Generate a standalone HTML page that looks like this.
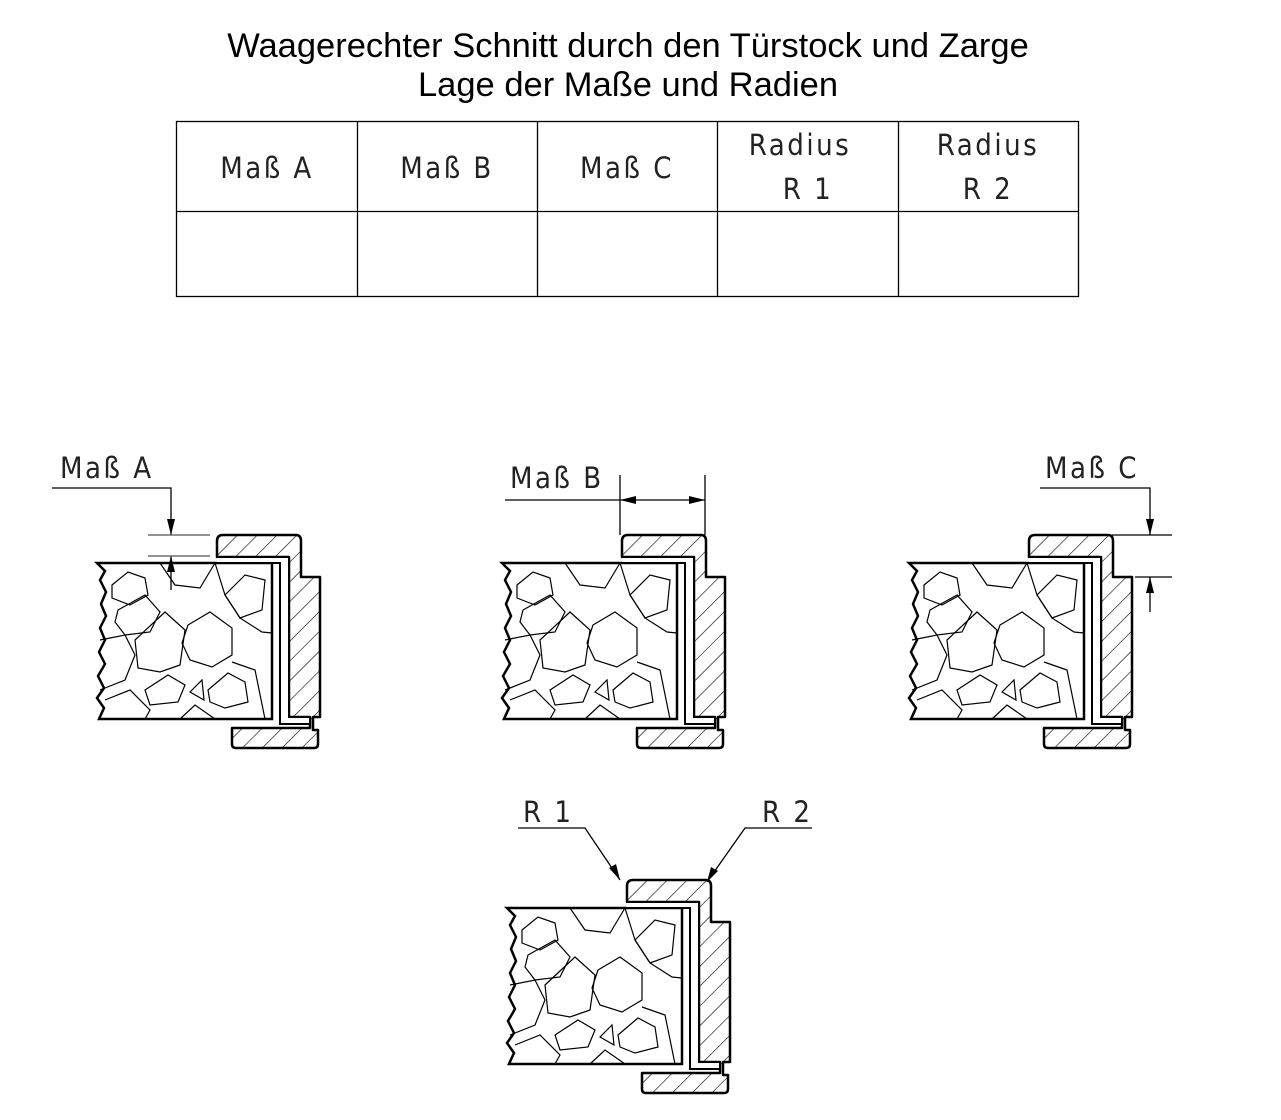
<!DOCTYPE html>
<html><head><meta charset="utf-8"><style>
body{margin:0;background:#fff;width:1281px;height:1120px;overflow:hidden}
svg{display:block}
</style></head><body>
<svg width="1281" height="1120" viewBox="0 0 1281 1120" xmlns="http://www.w3.org/2000/svg">
<defs>
<pattern id="h" patternUnits="userSpaceOnUse" width="14" height="14" patternTransform="rotate(45)">
<line x1="0" y1="0" x2="0" y2="14" stroke="#000" stroke-width="1.2"/>
</pattern>
<g id="sec">
 <path d="M97,563 L272,563 L272,719 L99,719 L104,708 L97,698 L104,688 L98,676 L105,664 L99,652 L105,640 L100,628 L106,616 L101,604 L106,592 L100,580 L105,571 Z" fill="#fff" stroke="#000" stroke-width="2.5"/>
 <g fill="none" stroke="#000" stroke-width="1.2">
  <path d="M112,585 L128,572 L145,578 L148,595 L130,605 L112,598 Z"/>
  <path d="M118,610 L145,595 L160,612 L150,632 L125,635 L115,622 Z"/>
  <path d="M135,640 L165,612 L185,630 L180,665 L160,672 L138,668 Z"/>
  <path d="M188,625 L210,612 L232,628 L232,655 L212,667 L190,660 L182,643 Z"/>
  <path d="M225,595 L245,575 L265,580 L262,610 L240,618 Z"/>
  <path d="M145,690 L168,675 L185,685 L178,702 L150,705 Z"/>
  <path d="M190,692 L202,680 L204,700 Z"/>
  <path d="M208,690 L228,673 L245,682 L248,702 L225,708 L210,702 Z"/>
  <path d="M160,563 L175,585 L200,588 L215,563"/>
  <path d="M215,563 L225,595 L240,618 L262,632 L272,633"/>
  <path d="M100,640 L125,635 L135,655 L125,680 L100,690"/>
  <path d="M105,700 L130,690 L150,710 L145,719"/>
  <path d="M232,662 L255,670 L265,719"/>
  <path d="M180,719 L195,705 L215,719"/>
 </g>
 <path d="M217,541 Q217,535 223,535 L296,535 Q301,535 301,541 L301,577 L320,577 L320,717 L313,717 L313,730 L318,730 L318,744 Q318,748 314,748 L236,748 Q232,748 232,744 L232,728 L310,728 L310,717 L289,717 L289,557 L217,557 Z" fill="url(#h)" stroke="#000" stroke-width="2.5" stroke-linejoin="round"/>
 <path d="M217,557 L289,557 L289,717 L310,717 L310,724 L280,724 L280,563 L217,563" fill="#fff" stroke="#000" stroke-width="2"/>
</g>
</defs>

<text x="628" y="57" font-family="Liberation Sans, sans-serif" font-size="34.5" text-anchor="middle">Waagerechter Schnitt durch den Türstock und Zarge</text>
<text x="628" y="96" font-family="Liberation Sans, sans-serif" font-size="34.5" text-anchor="middle">Lage der Maße und Radien</text>

<g fill="none" stroke="#000" stroke-width="1.3">
<rect x="176.5" y="121.5" width="902" height="175"/>
<line x1="176" y1="211.5" x2="1078" y2="211.5"/>
<line x1="357.5" y1="121" x2="357.5" y2="296"/>
<line x1="537.5" y1="121" x2="537.5" y2="296"/>
<line x1="717.5" y1="121" x2="717.5" y2="296"/>
<line x1="898.5" y1="121" x2="898.5" y2="296"/>
</g>
<g font-family="DejaVu Sans Condensed, Liberation Sans Narrow, sans-serif" font-size="29" text-anchor="middle" fill="#222" letter-spacing="2.5">
<text x="267" y="178">Maß  A</text>
<text x="447" y="178">Maß  B</text>
<text x="627" y="178">Maß  C</text>
<text x="800" y="155">Radius</text>
<text x="808" y="199">R  1</text>
<text x="988" y="155">Radius</text>
<text x="988" y="199">R  2</text>
</g>

<use href="#sec"/>
<use href="#sec" transform="translate(405,0)"/>
<use href="#sec" transform="translate(812,0)"/>
<use href="#sec" transform="translate(410,345)"/>

<g font-family="DejaVu Sans Condensed, Liberation Sans Narrow, sans-serif" font-size="29" fill="#222" letter-spacing="2.5">
<text x="60" y="478">Maß  A</text>
<text x="510" y="488">Maß  B</text>
<text x="1045" y="478">Maß  C</text>
<text x="523" y="822">R  1</text>
<text x="762" y="822">R  2</text>
</g>
<g stroke="#000" stroke-width="1.3" fill="none">
 <polyline points="52,488 171,488 171,535"/>
 <line x1="171" y1="556" x2="171" y2="590"/>
 <line x1="148" y1="535" x2="210" y2="535" stroke="#555"/>
 <line x1="148" y1="556" x2="210" y2="556" stroke="#555"/>
 <line x1="505" y1="500" x2="705" y2="500"/>
 <line x1="620" y1="475" x2="620" y2="535"/>
 <line x1="705" y1="475" x2="705" y2="535"/>
 <polyline points="1040,488 1150,488 1150,535"/>
 <line x1="1150" y1="577" x2="1150" y2="612"/>
 <line x1="1112" y1="535" x2="1172" y2="535"/>
 <line x1="1135" y1="577" x2="1172" y2="577"/>
 <polyline points="518,828 585,828 620,880"/>
 <polyline points="812,828 745,828 707,882"/>
</g>
<g fill="#000">
 <polygon points="171,535 167,519 175,519"/>
 <polygon points="171,556 167,572 175,572"/>
 <polygon points="620,500 636,496 636,504"/>
 <polygon points="705,500 689,496 689,504"/>
 <polygon points="1150,535 1146,519 1154,519"/>
 <polygon points="1150,577 1146,593 1154,593"/>
 <polygon points="620,880 609,868 616,864"/>
 <polygon points="707,882 711,867 718,871"/>
</g>
</svg>
</body></html>
